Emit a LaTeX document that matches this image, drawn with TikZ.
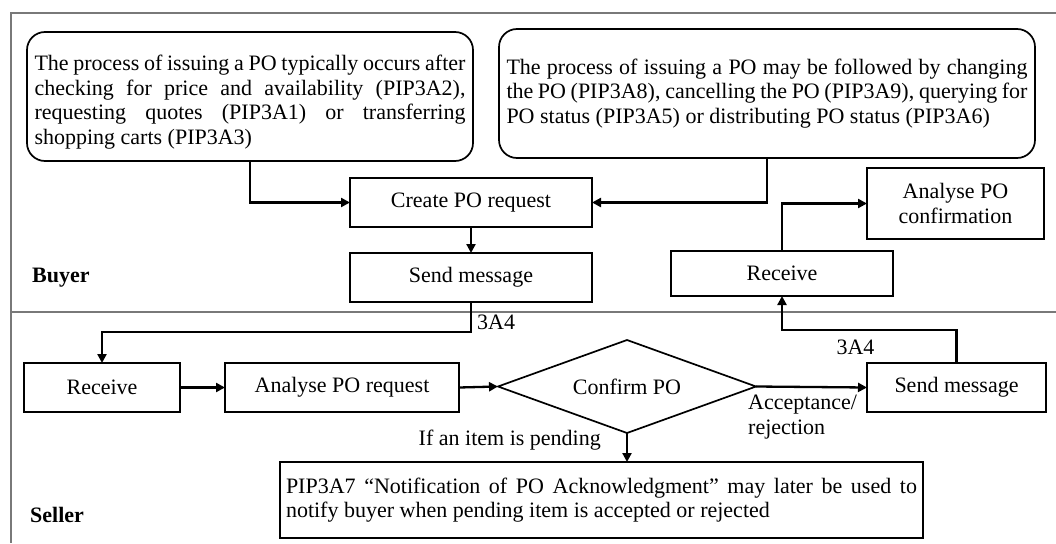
\documentclass[tikz,border=0pt]{standalone}
\usepackage{fontspec}
\setmainfont{Liberation Serif}
\usetikzlibrary{arrows.meta,shapes.geometric}

\newcommand{\fullline}[2]{\makebox[#1][s]{#2}}

\tikzset{
  lane/.style={draw=gray!95!black, line width=2.2pt},
  box/.style={draw, line width=1.7pt, inner sep=0pt, outer sep=0pt, align=center},
  note/.style={draw, line width=1.7pt, rounded corners=18pt, inner sep=0pt, outer sep=0pt, align=left},
  decision/.style={draw, diamond, shape aspect=2.77, line width=1.7pt, inner sep=0pt, outer sep=0pt},
  conn/.style={line width=2.3pt, -{Triangle[length=9pt,width=9pt]}},
  lbl/.style={inner sep=0pt, align=left}
}

\begin{document}
\begin{tikzpicture}[x=1pt, y=-1pt, font=\fontsize{22}{24.5}\selectfont]
  \useasboundingbox (0,0) rectangle (1056,543);
  \fill[white] (0,0) rectangle (1056,543);

  % swimlane frame
  \draw[lane] (1056,13) -- (11,13) -- (11,543);
  \draw[lane] (11,312) -- (1056,312);
  \node[lbl, font=\fontsize{22}{24.5}\selectfont\bfseries, anchor=west] (buyer) at (32,278) {Buyer};
  \node[lbl, font=\fontsize{22}{24.5}\selectfont\bfseries, anchor=west] (seller) at (30,515) {Seller};

  % buyer side
  \node[note, minimum width=446, minimum height=129] (pre) at (250,96.5) {%
    \rule{0pt}{27pt}\fullline{431pt}{The process of issuing a PO typically occurs after}\\
    \fullline{431pt}{checking for price and availability (PIP3A2),}\\
    \fullline{431pt}{requesting quotes (PIP3A1) or transferring}\\
    shopping carts (PIP3A3)};
  \node[note, minimum width=536, minimum height=129] (post) at (767,93.5) {%
    \fullline{521pt}{The process of issuing a PO may be followed by changing}\\
    \fullline{521pt}{the PO (PIP3A8), cancelling the PO (PIP3A9), querying for}\\
    PO status (PIP3A5) or distributing PO status (PIP3A6)};
  \node[box, minimum width=242, minimum height=49] (create) at (471,202.5) {Create PO request};
  \node[box, minimum width=242, minimum height=49] (sendb) at (471,277.5) {Send message};
  \node[box, minimum width=222, minimum height=45] (recvb) at (782,273.5) {Receive};
  \node[box, minimum width=177, minimum height=71] (confirm) at (955.5,203.5) {Analyse PO\\confirmation};

  % seller side
  \node[box, minimum width=156, minimum height=49] (recvs) at (102,387.5) {Receive};
  \node[box, minimum width=234, minimum height=49] (analyse) at (342,387.5) {Analyse PO request};
  \node[decision, minimum width=258, minimum height=93] (dec) at (627,386.5) {Confirm PO};
  \node[box, minimum width=179, minimum height=49] (sends) at (956.5,387.5) {Send message};
  \node[box, minimum width=643, minimum height=76, align=left] (pending) at (601.5,500) {%
    \fullline{631pt}{PIP3A7 “Notification of PO Acknowledgment” may later be used to}\\
    notify buyer when pending item is accepted or rejected};

  % junction heights of the message flows
  \coordinate (down) at (0,332);
  \coordinate (up) at (0,330);

  % connectors
  \draw[conn] (pre.south) |- (create.west);
  \draw[conn] (post.south) |- (create.east);
  \draw[conn] (create.south) -- (sendb.north);
  \draw[conn] (recvb.north) |- (confirm.west);
  \draw[conn] (sendb.south) -- (sendb.south |- down) -| (recvs.north);
  \draw[conn] (recvs.east) -- (analyse.west);
  \draw[conn] (analyse.east) -- (dec.west);
  \draw[conn] (dec.east) -- (sends.west);
  \draw[conn] (dec.south) -- (dec.south |- pending.north);
  \draw[conn] (sends.north) -- (sends.north |- up) -| (recvb.south);

  % connector labels
  \node[lbl, anchor=west] (m1) at (477,322) {3A4};
  \node[lbl] (m2) at (855.5,347) {3A4};
  \node[lbl, anchor=north west] (ar) at (748,395) {Acceptance/\\rejection};
  \node[lbl, anchor=east] (pend) at (601,440) {If an item is pending};
\end{tikzpicture}
\end{document}
